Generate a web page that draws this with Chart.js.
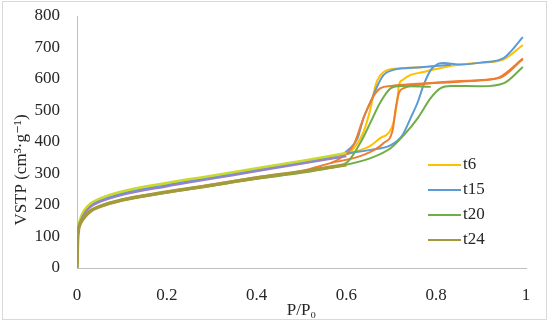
<!DOCTYPE html>
<html>
<head>
<meta charset="utf-8">
<script src="https://cdn.jsdelivr.net/npm/chart.js@4.4.0/dist/chart.umd.min.js"></script>
<style>
  html, body { margin: 0; padding: 0; background: #fff; }
  #wrap { width: 550px; height: 325px; position: relative; }
</style>
</head>
<body>
<div id="wrap"><canvas id="iso" width="550" height="325"></canvas></div>
<script>
// ---- data (P/P0 vs V, cm3/g) ----
const xTicks = [0, 0.2, 0.4, 0.6, 0.8, 1];
const yTicks = [0, 100, 200, 300, 400, 500, 600, 700, 800];

const lowP = [0, 0.001, 0.003, 0.007, 0.015, 0.03, 0.05, 0.1, 0.2, 0.3, 0.4, 0.5, 0.6];

const t6AdsP = [0, 0.001, 0.003, 0.007, 0.015, 0.03, 0.05, 0.1, 0.2, 0.3, 0.4, 0.5, 0.6, 0.65, 0.676, 0.694, 0.705, 0.714, 0.717, 0.725, 0.743, 0.772, 0.81, 0.85, 0.9, 0.95, 0.993];
const t6AdsV = [0, 80, 125, 152, 178, 202, 217, 240, 267, 290, 314, 338, 362, 385, 413, 429, 463, 540, 581, 597, 613, 622, 635, 645, 652, 662, 708];
const t6DesP = [0.6, 0.609, 0.638, 0.654, 0.665, 0.676, 0.692, 0.72, 0.77];
const t6DesV = [362, 368, 432, 508, 581, 613, 629, 634, 637];

const t15AdsP = [0, 0.001, 0.003, 0.007, 0.015, 0.03, 0.05, 0.1, 0.2, 0.3, 0.4, 0.5, 0.565, 0.609, 0.654, 0.699, 0.725, 0.743, 0.759, 0.772, 0.788, 0.804, 0.817, 0.85, 0.9, 0.951, 0.993];
const t15AdsV = [0, 78, 122, 148, 174, 198, 213, 236, 263, 287, 311, 335, 352, 365, 375, 390, 422, 476, 527, 581, 629, 648, 651, 646, 652, 667, 733];
const t15DesP = [0.594, 0.625, 0.638, 0.654, 0.67, 0.683, 0.705, 0.737, 0.772, 0.833];
const t15DesV = [362, 413, 476, 527, 581, 613, 629, 635, 638, 645];

const t20AdsP = [0, 0.001, 0.003, 0.007, 0.015, 0.03, 0.05, 0.1, 0.2, 0.3, 0.4, 0.5, 0.565, 0.654, 0.699, 0.728, 0.759, 0.788, 0.81, 0.833, 0.9, 0.951, 0.993];
const t20AdsV = [0, 72, 115, 138, 157, 179, 194, 214, 239, 261, 283, 302, 318, 349, 381, 422, 476, 540, 571, 578, 577, 587, 638];
const t20DesP = [0.565, 0.603, 0.632, 0.654, 0.676, 0.699, 0.721, 0.788];
const t20DesV = [318, 337, 400, 463, 527, 571, 578, 575];

const t24V = [0, 75, 118, 140, 159, 181, 195, 216, 241, 263, 286, 306, 328];

const redAdsP = [0, 0.001, 0.003, 0.007, 0.015, 0.03, 0.05, 0.1, 0.2, 0.3, 0.4, 0.5, 0.565, 0.638, 0.683, 0.703, 0.71, 0.717, 0.728, 0.759, 0.795, 0.855, 0.94, 0.993];
const redAdsV = [0, 74, 117, 140, 160, 182, 196, 217, 242, 265, 288, 308, 333, 359, 397, 438, 508, 556, 571, 581, 588, 594, 603, 663];
const redDesP = [0.565, 0.587, 0.616, 0.638, 0.658, 0.676, 0.699, 0.75, 0.833, 0.9, 0.94, 0.993];
const redDesV = [333, 349, 390, 476, 540, 571, 578, 584, 590, 596, 605, 665];

const purpleV = [0, 70, 120, 145, 170, 194, 209, 232, 259, 283, 307, 331, 355];
const limeV = [0, 85, 130, 155, 181, 205, 220, 243, 270, 293, 317, 340, 365];

const labels = ["t6", "t15", "t20", "t24"];
const colors = { t6: "#FFC000", t15: "#5B9BD5", t20: "#70AD47", t24: "#A39A3A", red: "#ED7D31", purple: "#9A80C8", lime: "#CBD92E" };

function pts(px, vy) { return px.map((p, i) => ({ x: p, y: vy[i] })); }

function series(data, color, width) {
  return {
    data: data,
    borderColor: color,
    borderWidth: width,
    pointRadius: 0,
    fill: false,
    showLine: true,
    cubicInterpolationMode: "monotone",
  };
}

const datasets = [
  series(pts(lowP, t24V), colors.t24, 3.5),
  series(pts(lowP, purpleV), colors.purple, 2),
  series(pts(lowP, limeV), colors.lime, 2.5),
  series(pts(t20AdsP, t20AdsV), colors.t20, 2),
  series(pts(t20DesP, t20DesV), colors.t20, 2),
  series(pts(redAdsP, redAdsV), colors.red, 2),
  series(pts(redDesP, redDesV), colors.red, 2),
  series(pts(t15AdsP, t15AdsV), colors.t15, 2),
  series(pts(t15DesP, t15DesV), colors.t15, 2),
  series(pts(t6AdsP, t6AdsV), colors.t6, 2),
  series(pts(t6DesP, t6DesV), colors.t6, 2),
];

const FONT = "'Liberation Serif', 'DejaVu Serif', serif";

// frame, y title and legend drawn by hand to match the layout
const decor = {
  id: "decor",
  afterDraw(chart) {
    const ctx = chart.ctx;
    ctx.save();
    ctx.strokeStyle = "#D9D9D9";
    ctx.lineWidth = 1;
    ctx.strokeRect(2.5, 1.5, 544, 318);

    ctx.fillStyle = "#262626";
    ctx.font = "17px " + FONT;
    ctx.textAlign = "center";
    ctx.textBaseline = "middle";
    ctx.translate(22, 170);
    ctx.rotate(-Math.PI / 2);
    ctx.fillText("VSTP (cm³·g⁻¹)", 0, 0);
    ctx.restore();

    ctx.save();
    ctx.font = "17px " + FONT;
    ctx.textBaseline = "middle";
    ctx.textAlign = "left";
    labels.forEach((lab, i) => {
      const y = 165 + i * 25;
      ctx.strokeStyle = colors[lab];
      ctx.lineWidth = 2;
      ctx.beginPath();
      ctx.moveTo(428, y);
      ctx.lineTo(461, y);
      ctx.stroke();
      ctx.fillStyle = "#262626";
      ctx.fillText(lab, 463, y);
    });
    ctx.restore();
  },
};

new Chart(document.getElementById("iso"), {
  type: "scatter",
  data: { datasets },
  plugins: [decor],
  options: {
    responsive: false,
    animation: false,
    layout: { padding: { left: 0, right: 24, top: 16, bottom: 0 } },
    plugins: { legend: { display: false }, tooltip: { enabled: false } },
    scales: {
      x: {
        type: "linear",
        min: 0,
        max: 1,
        afterBuildTicks: (s) => { s.ticks = xTicks.map((v) => ({ value: v })); },
        afterFit: (s) => { s.height = 57; },
        grid: { display: false, drawTicks: true, tickLength: 17 },
        border: { display: true, color: "#BFBFBF", width: 1 },
        ticks: { padding: 0, color: "#262626", font: { family: FONT, size: 17 }, maxRotation: 0, callback: (v) => String(v) },
        title: { display: true, text: "P/P₀", color: "#262626", font: { family: FONT, size: 17 }, padding: { top: 0, bottom: 4 } },
      },
      y: {
        type: "linear",
        min: 0,
        max: 800,
        afterBuildTicks: (s) => { s.ticks = yTicks.map((v) => ({ value: v })); },
        afterFit: (s) => { s.width = 77; },
        grid: { display: false, drawTicks: true, tickLength: 17 },
        border: { display: true, color: "#BFBFBF", width: 1 },
        ticks: { padding: 0, color: "#262626", font: { family: FONT, size: 17 } },
      },
    },
  },
});
</script>
</body>
</html>
